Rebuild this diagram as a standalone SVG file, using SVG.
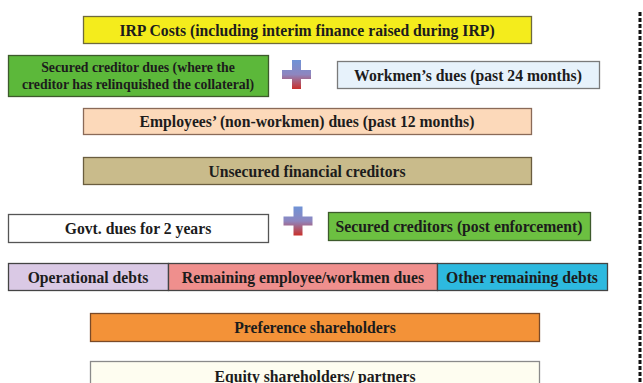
<svg xmlns="http://www.w3.org/2000/svg" width="643" height="383" viewBox="0 0 643 383">
  <style>
    .box { stroke-width: 1.3; }
    .lbl { font-family: "Liberation Serif", "Times New Roman", serif; font-weight: bold; font-size: 15.7px; fill: #1c1c1c; text-anchor: middle; dominant-baseline: central; }
    .sm { font-size: 13.8px; }
  </style>
  <defs>
    <linearGradient id="plusGrad" x1="0" y1="0" x2="0" y2="1">
      <stop offset="0" stop-color="#6f93d6"/>
      <stop offset="0.5" stop-color="#8e86bf"/>
      <stop offset="1" stop-color="#c9302a"/>
    </linearGradient>
    <path id="plus" d="M-4.5,-14.5 h9 v10 h10 v9 h-10 v10 h-9 v-10 h-10 v-9 h10 z"/>
  </defs>
  <rect width="643" height="383" fill="#ffffff"/>

  <g id="irp-costs">
    <rect class="box" x="83.5" y="16.5" width="448" height="27" fill="#f4ec1c" stroke="#6e6a3c"/>
    <text class="lbl" x="307" y="30">IRP Costs (including interim finance raised during IRP)</text>
  </g>
  <g id="secured-relinquished">
    <rect class="box" x="8.5" y="55.5" width="260" height="41" fill="#5cb83a" stroke="#3d5a2c"/>
    <text class="lbl sm" x="138" y="67.5">Secured creditor dues (where the</text>
    <text class="lbl sm" x="138" y="84.5">creditor has relinquished the collateral)</text>
  </g>
  <g id="plus-1">
    <use href="#plus" x="296.5" y="74.5" fill="url(#plusGrad)"/>
  </g>
  <g id="workmen-dues">
    <rect class="box" x="337.5" y="61.5" width="262" height="27" fill="#e7f2fb" stroke="#7a7a7a"/>
    <text class="lbl" x="468" y="75">Workmen’s dues (past 24 months)</text>
  </g>
  <g id="employees-dues">
    <rect class="box" x="83.5" y="108.5" width="448" height="26" fill="#fcd9ba" stroke="#8a6a58"/>
    <text class="lbl" x="307" y="121.5">Employees’ (non-workmen) dues (past 12 months)</text>
  </g>
  <g id="unsecured-financial">
    <rect class="box" x="83.5" y="157.5" width="448" height="27" fill="#c9bb8b" stroke="#6a5d3f"/>
    <text class="lbl" x="307" y="171">Unsecured financial creditors</text>
  </g>
  <g id="govt-dues">
    <rect class="box" x="8.5" y="214.5" width="260" height="28" fill="#ffffff" stroke="#555555"/>
    <text class="lbl" x="138" y="228.5">Govt. dues for 2 years</text>
  </g>
  <g id="plus-2">
    <use href="#plus" x="298" y="221" fill="url(#plusGrad)"/>
  </g>
  <g id="secured-post-enforcement">
    <rect class="box" x="328.5" y="212.5" width="262" height="28" fill="#6cc041" stroke="#3d5a2c"/>
    <text class="lbl" x="459" y="226.5">Secured creditors (post enforcement)</text>
  </g>
  <g id="operational-debts">
    <rect class="box" x="8.5" y="263.5" width="160" height="27" fill="#dac9e5" stroke="#444444"/>
    <text class="lbl" x="88" y="277">Operational debts</text>
  </g>
  <g id="remaining-employee">
    <rect class="box" x="168.5" y="263.5" width="269" height="27" fill="#ef8f8d" stroke="#444444"/>
    <text class="lbl" x="303" y="277">Remaining employee/workmen dues</text>
  </g>
  <g id="other-remaining">
    <rect class="box" x="437.5" y="263.5" width="170" height="27" fill="#2db9df" stroke="#444444"/>
    <text class="lbl" x="522" y="277">Other remaining debts</text>
  </g>
  <g id="preference-shareholders">
    <rect class="box" x="90.5" y="313.5" width="449" height="28" fill="#f39238" stroke="#7a4a28"/>
    <text class="lbl" x="315" y="327.5">Preference shareholders</text>
  </g>
  <g id="equity-shareholders">
    <rect class="box" x="90.5" y="361.5" width="449" height="30" fill="#fefdf0" stroke="#8a8a8a"/>
    <text class="lbl" x="315" y="376">Equity shareholders/ partners</text>
  </g>

  <g id="connectors">
    <line x1="640" y1="12" x2="640" y2="383" stroke="#111111" stroke-width="3" stroke-dasharray="4 2"/>
  </g>
</svg>
